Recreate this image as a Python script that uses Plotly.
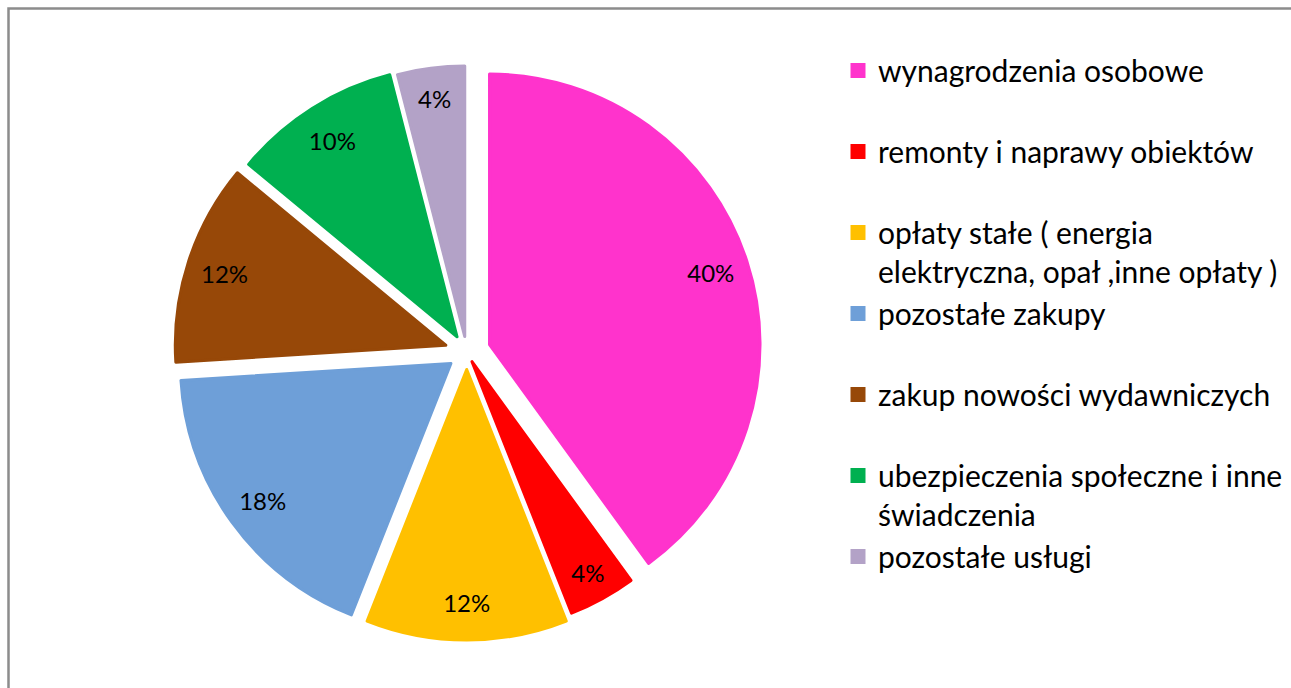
import plotly.graph_objects as go

categories = [
    "wynagrodzenia osobowe",
    "remonty i naprawy obiektów",
    "opłaty stałe ( energia<br>elektryczna, opał ,inne opłaty )",
    "pozostałe zakupy",
    "zakup nowości wydawniczych",
    "ubezpieczenia społeczne i inne<br>świadczenia",
    "pozostałe usługi",
]
values = [40, 4, 12, 18, 12, 10, 4]
colors = ["#FF33CC", "#FF0000", "#FFC000", "#6E9FD8", "#974808", "#00B050", "#B3A2C7"]

# style: per-slice explosion in pixels (as seen in the original)
explode_px = [24, 11, 17.5, 19.5, 22, 18, 15.5]

# legend entries in Excel each occupy two lines
legend_labels = [c if "<br>" in c else c + "<br>\u00a0" for c in categories]

W, H = 1291, 688
cx, cy, r = 466.7, 352, 270.5
pulls = [p / r for p in explode_px]
half = r * (1 + max(pulls))
dom = dict(x=[(cx - half) / W, (cx + half) / W],
           y=[(H - (cy + half)) / H, (H - (cy - half)) / H])

fig = go.Figure()
# coloured slices
fig.add_trace(go.Pie(
    labels=legend_labels,
    values=values,
    sort=False,
    direction="clockwise",
    rotation=0,
    pull=pulls,
    marker=dict(colors=colors, line=dict(color=colors, width=3)),
    textinfo="none",
    hoverinfo="label+percent",
    domain=dom,
    showlegend=True,
))
# transparent ring carrying the data labels near the outer edge ("inside end")
fig.add_trace(go.Pie(
    labels=legend_labels,
    values=values,
    sort=False,
    direction="clockwise",
    rotation=0,
    pull=pulls,
    hole=0.72,
    marker=dict(colors=["rgba(0,0,0,0)"] * len(values), line=dict(width=0)),
    textinfo="percent",
    textposition="inside",
    insidetextorientation="horizontal",
    insidetextfont=dict(family="Lato", size=24, color="black"),
    hoverinfo="skip",
    domain=dom,
    showlegend=False,
))

fig.update_layout(
    width=W, height=H,
    margin=dict(l=0, r=0, t=0, b=0),
    paper_bgcolor="white",
    showlegend=True,
    uniformtext=dict(minsize=24, mode="show"),
    legend=dict(
        x=838 / W, xanchor="left",
        y=1 - 44.5 / H, yanchor="top",
        font=dict(family="Lato", size=30, color="black"),
        itemwidth=30,
        valign="top",
        bgcolor="rgba(0,0,0,0)",
    ),
    shapes=[dict(type="rect", xref="paper", yref="paper",
                 x0=8.5 / W, x1=1.2, y0=-0.2, y1=1 - 8.5 / H,
                 line=dict(color="#8C8C8C", width=2.5), layer="above")],
)

fig.write_html(
    "out.html",
    config={"displayModeBar": False},
    post_script="document.body.style.margin='0';document.body.style.overflow='hidden';",
)
